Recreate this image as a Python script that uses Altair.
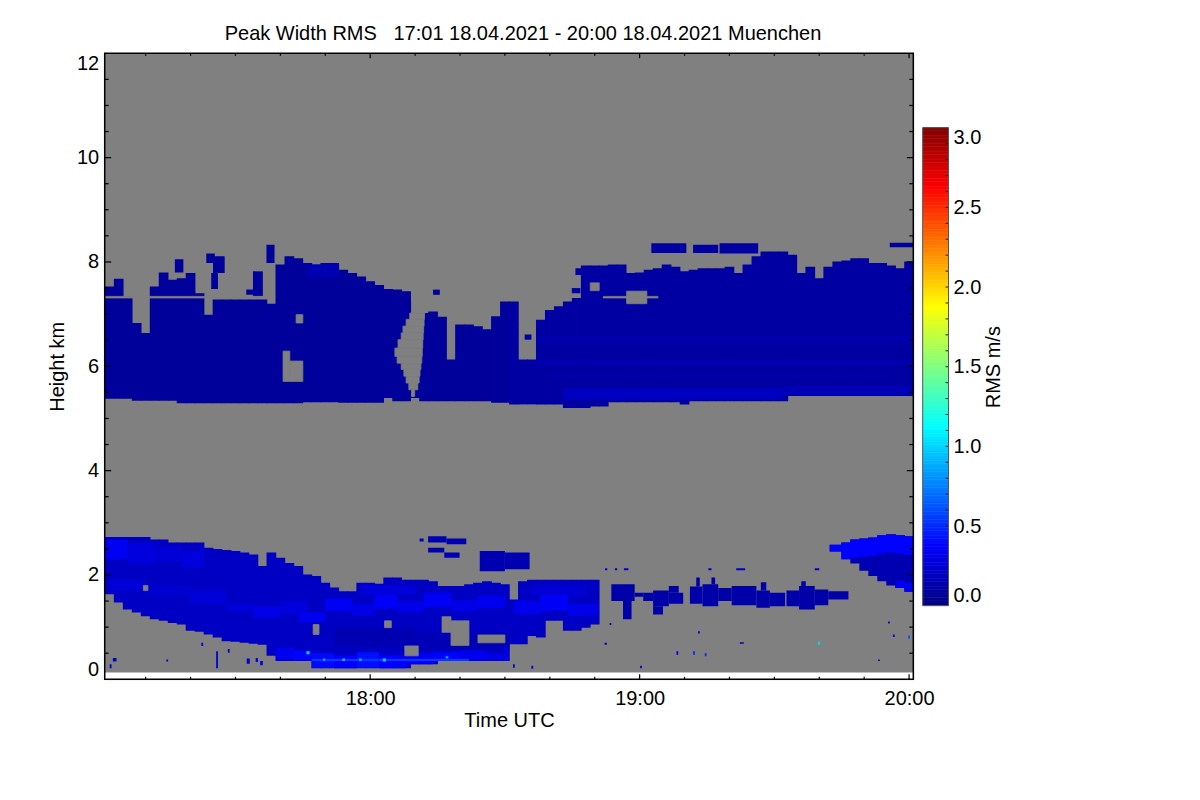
import altair as alt
import pandas as pd

FONT = "Liberation Sans"
GRAY = "#808080"

# ---------------- axes / frame -----------------
T_START, T_END = 0.88, 180.94        # minutes after 17:00 UTC
H_MAX = 12.0
GATE_MIN = 0.13                      # lowest range gate (km)
W, H = 808.6, 626.0

# 2-minute time columns (start minute of each column)
col_t = list(range(1, 181, 2))

# ---------------- upper cloud layer (per column) -----------------
upper_base = [5.38, 5.38, 5.38, 5.34, 5.34, 5.34, 5.34, 5.34, 5.29, 5.29,
              5.29, 5.29, 5.29, 5.29, 5.29, 5.29, 5.29, 5.29, 5.29, 5.29,
              5.29, 5.29, 5.31, 5.31, 5.31, 5.31, 5.30, 5.30, 5.30, 5.30,
              5.30, 5.39, 5.33, 5.33, 5.39, 5.33, 5.33, 5.33, 5.33, 5.33,
              5.33, 5.33, 5.33, 5.30, 5.30, 5.27, 5.27, 5.27, 5.27, 5.27,
              5.27, 5.20, 5.20, 5.20, 5.23, 5.23, 5.31, 5.31, 5.31, 5.31,
              5.31, 5.31, 5.31, 5.31, 5.27, 5.33, 5.33, 5.33, 5.33, 5.33,
              5.33, 5.33, 5.33, 5.33, 5.33, 5.33, 5.43, 5.43, 5.43, 5.43,
              5.43, 5.43, 5.43, 5.43, 5.43, 5.43, 5.43, 5.43, 5.43, 5.43]
upper_top = [7.53, 7.68, 7.34, 6.83, 6.64, 7.53, 7.80, 7.66, 7.69, 7.79,
             7.40, 6.99, 7.28, 7.28, 7.28, 7.28, 7.28, 7.28, 7.20, 7.95,
             8.11, 8.07, 7.98, 7.95, 7.98, 7.98, 7.85, 7.79, 7.72, 7.63,
             7.56, 7.48, 7.47, 7.44, 7.24, 7.02, 7.05, 6.95, 6.13, 6.80,
             6.80, 6.77, 6.71, 6.96, 7.24, 7.24, 6.13, 6.13, 6.89, 7.08,
             7.15, 7.24, 7.31, 7.93, 7.93, 7.93, 7.95, 7.95, 7.79, 7.80,
             7.85, 7.88, 7.95, 7.91, 7.82, 7.85, 7.88, 7.88, 7.88, 7.91,
             7.79, 7.95, 8.11, 8.20, 8.20, 8.20, 8.14, 7.79, 7.91, 7.69,
             7.91, 8.01, 8.03, 8.07, 8.07, 7.98, 7.98, 7.93, 7.88, 8.01]
upper_rms_left, upper_rms_right = 0.08, 0.10

# detached cloud pieces above the upper layer: (t0, t1, bottom, top)
upper_blobs = [(16.5, 18.4, 7.80, 8.05), (23.5, 25.4, 7.98, 8.16),
               (25.0, 27.6, 7.79, 8.11), (24.6, 26.1, 7.48, 7.79),
               (32.4, 33.9, 7.37, 7.47), (33.9, 36.1, 7.34, 7.82),
               (36.9, 38.7, 7.98, 8.33), (74.0, 75.5, 7.37, 7.47),
               (94.4, 95.9, 6.51, 6.61), (104.9, 106.8, 7.40, 7.50),
               (105.7, 107.2, 7.75, 7.88), (122.6, 130.4, 8.17, 8.36),
               (131.9, 137.5, 8.17, 8.33), (137.8, 146.4, 8.16, 8.36),
               (175.7, 181.5, 8.28, 8.37)]

# brighter streaks inside the upper layer: (t0, t1, bottom, top, rms)
upper_streaks = [(46, 53, 7.70, 7.95, 0.15),
                 (97, 181.5, 6.45, 6.58, 0.13), (97, 181.5, 6.02, 6.12, 0.14),
                 (100, 175, 5.78, 5.86, 0.12), (103, 152, 5.36, 5.58, 0.19),
                 (152, 181.5, 5.45, 5.62, 0.16)]

# no-data holes in the upper layer: (t0, t1, bottom, top)
upper_gaps = [(40.6, 42.1, 5.71, 6.29), (42.1, 45.0, 5.71, 6.10),
              (43.5, 45.0, 6.83, 6.99),
              # V-shaped clearing around 18:08
              (69.2, 72.2, 7.02, 7.50), (68.8, 72.1, 6.90, 7.02),
              (68.0, 72.0, 6.77, 6.90), (67.3, 71.9, 6.64, 6.77),
              (66.9, 71.8, 6.51, 6.64), (66.2, 71.7, 6.35, 6.51),
              (65.5, 71.6, 6.19, 6.35), (66.0, 71.5, 6.06, 6.19),
              (66.9, 71.3, 5.94, 6.06), (67.5, 71.1, 5.81, 5.94),
              (68.0, 70.9, 5.68, 5.81), (68.6, 70.6, 5.55, 5.68),
              (69.2, 69.9, 5.42, 5.55),
              (117.1, 121.6, 7.20, 7.44), (109.0, 111.0, 7.45, 7.60),
              (0.5, 37.0, 7.31, 7.34), (111.9, 124.1, 7.31, 7.34)]

# ---------------- lower cloud layer (columns 17:01 - 18:51) -----------------
lower_t = col_t[:55]
lower_base = [1.63, 1.47, 1.34, 1.28, 1.21, 1.15, 1.12, 1.08, 1.05, 0.93,
              0.91, 0.86, 0.80, 0.73, 0.72, 0.70, 0.68, 0.66, 0.45, 0.35,
              0.35, 0.35, 0.35, 0.21, 0.21, 0.21, 0.21, 0.21, 0.21, 0.21,
              0.21, 0.21, 0.21, 0.21, 0.29, 0.29, 0.29, 0.35, 0.35, 0.35,
              0.35, 0.35, 0.35, 0.35, 0.35, 0.67, 0.67, 0.83, 0.80, 1.12,
              1.12, 0.93, 0.93, 0.99, 1.05]
lower_top = [2.73, 2.73, 2.73, 2.73, 2.73, 2.68, 2.68, 2.62, 2.62, 2.62,
             2.62, 2.52, 2.50, 2.48, 2.46, 2.43, 2.39, 2.17, 2.43, 2.33,
             2.23, 2.17, 2.01, 1.98, 1.85, 1.76, 1.69, 1.69, 1.85, 1.85,
             1.83, 1.95, 1.95, 1.91, 1.91, 1.91, 1.88, 1.79, 1.79, 1.79,
             1.82, 1.85, 1.88, 1.85, 1.82, 1.53, 1.88, 1.91, 1.91, 1.91,
             1.91, 1.91, 1.91, 1.91, 1.91]
lower_rms = 0.20

# texture inside the lower layer: (t0, t1, bottom, top, rms)
lower_streaks = [(0.5, 6, 2.30, 2.68, 0.34), (6, 12, 2.22, 2.60, 0.28),
                 (12, 18, 2.25, 2.55, 0.25), (18, 23, 2.15, 2.45, 0.28),
                 (2, 10, 1.70, 1.92, 0.26), (10, 20, 1.60, 1.80, 0.24),
                 (20, 28, 1.45, 1.70, 0.26),
                 (28, 34, 1.30, 1.45, 0.27), (34, 40, 1.18, 1.40, 0.30),
                 (40, 46, 1.25, 1.50, 0.28), (44, 50, 1.10, 1.28, 0.33),
                 (50, 56, 1.30, 1.55, 0.34), (56, 61, 1.22, 1.45, 0.30),
                 (61, 66, 1.35, 1.62, 0.36), (66, 72, 1.28, 1.50, 0.31),
                 (72, 78, 1.38, 1.66, 0.35), (78, 84, 1.30, 1.52, 0.30),
                 (84, 90, 1.36, 1.60, 0.33), (58, 70, 1.62, 1.80, 0.27),
                 (92, 98, 1.25, 1.50, 0.32), (98, 104, 1.32, 1.62, 0.36),
                 (104, 110.8, 1.22, 1.45, 0.31), (96, 108, 1.62, 1.80, 0.25),
                 (52, 70, 0.62, 0.98, 0.15), (70, 91, 0.56, 0.90, 0.16),
                 (39, 43, 0.38, 0.60, 0.33), (43, 47, 0.36, 0.55, 0.38),
                 (47, 52, 0.22, 0.50, 0.40), (52, 57, 0.21, 0.45, 0.36),
                 (57, 62, 0.22, 0.52, 0.42), (62, 68, 0.21, 0.46, 0.37),
                 (68, 74, 0.29, 0.50, 0.35), (74, 80, 0.35, 0.52, 0.38),
                 (80, 86, 0.36, 0.55, 0.33), (86, 90, 0.36, 0.50, 0.30),
                 (47, 82, 0.35, 0.39, 0.55),
                 (45.8, 46.5, 0.48, 0.54, 1.00), (49.5, 50.0, 0.35, 0.40, 0.85),
                 (53.8, 54.4, 0.35, 0.40, 0.95), (57.5, 58.1, 0.35, 0.40, 0.90),
                 (62.8, 63.5, 0.34, 0.40, 1.00), (76.8, 77.4, 0.40, 0.44, 0.90)]

lower_gaps = [(76.0, 78.0, 0.90, 1.20), (78.0, 82.0, 0.65, 1.12),
              (84.0, 90.0, 0.70, 0.85), (67.7, 70.7, 0.45, 0.64),
              (63.2, 64.7, 0.99, 1.12), (47.3, 48.6, 0.86, 1.05),
              (9.5, 10.5, 1.70, 1.80)]

# detached pieces near 2-2.7 km: (t0, t1, bottom, top, rms)
lower_blobs = [(71.0, 71.9, 2.64, 2.70, 0.15), (72.9, 77.0, 2.62, 2.74, 0.15),
               (77.0, 81.4, 2.59, 2.70, 0.15), (72.9, 76.5, 2.43, 2.52, 0.15),
               (76.5, 79.9, 2.33, 2.43, 0.15), (84.4, 90.0, 2.07, 2.46, 0.15),
               (90.0, 95.5, 2.11, 2.43, 0.15)]

# thin cloud band at ~1.5 km after 18:53: (t0, t1, bottom, top, rms)
mid_blobs = [(113.7, 118.9, 1.50, 1.82, 0.12), (116.3, 118.2, 1.15, 1.50, 0.12),
             (118.9, 120.8, 1.58, 1.66, 0.12),
             (120.8, 123.0, 1.50, 1.66, 0.12), (123.0, 126.5, 1.40, 1.70, 0.12),
             (126.5, 129.7, 1.45, 1.66, 0.12), (123.0, 125.2, 1.24, 1.40, 0.12),
             (126.5, 128.7, 1.66, 1.79, 0.12),
             (131.2, 134.0, 1.45, 1.78, 0.12), (134.0, 137.5, 1.40, 1.82, 0.12),
             (137.5, 140.5, 1.50, 1.75, 0.12), (132.6, 133.4, 1.78, 1.95, 0.12),
             (136.0, 136.8, 1.82, 1.95, 0.12),
             (140.5, 146.0, 1.42, 1.79, 0.12), (146.0, 149.0, 1.37, 1.70, 0.12),
             (149.0, 152.4, 1.40, 1.66, 0.12), (147.0, 148.2, 1.70, 1.86, 0.12),
             (152.7, 155.5, 1.40, 1.70, 0.12), (155.5, 159.0, 1.34, 1.79, 0.12),
             (159.0, 162.0, 1.42, 1.72, 0.12), (156.0, 157.0, 1.79, 1.88, 0.12),
             (162.0, 166.5, 1.53, 1.69, 0.12)]

# cloud arriving at the end (19:42 - 20:01)
right_t = [162.4, 165, 167, 169, 171, 173, 175, 177, 179]
right_base = [2.45, 2.30, 2.22, 2.08, 1.98, 1.88, 1.80, 1.75, 1.68]
right_top = [2.58, 2.62, 2.68, 2.70, 2.72, 2.76, 2.78, 2.76, 2.74]
right_rms, right_top_rms = 0.15, 0.38
right_streaks = [(177, 179, 1.75, 1.88, 0.35), (179, 181.5, 1.68, 1.85, 0.35)]

# isolated echoes
specks = [(2.7, 3.5, 0.34, 0.41, 0.20), (2.0, 2.4, 0.21, 0.29, 0.20),
          (14.6, 15.0, 0.34, 0.38, 0.25), (22.4, 22.8, 0.64, 0.70, 0.25),
          (25.7, 26.1, 0.21, 0.54, 0.25), (28.3, 28.7, 0.51, 0.58, 0.25),
          (32.5, 33.2, 0.30, 0.40, 0.25), (34.5, 35.0, 0.33, 0.41, 0.30),
          (35.5, 36.1, 0.27, 0.35, 0.30), (90.0, 90.7, 0.35, 0.61, 0.30),
          (91.8, 92.2, 0.22, 0.29, 0.25), (95.9, 96.3, 0.20, 0.26, 0.25),
          (112.2, 112.7, 0.66, 0.70, 0.20), (113.3, 113.7, 1.04, 1.08, 0.20),
          (128.2, 128.6, 0.47, 0.54, 0.30), (131.9, 132.3, 0.47, 0.54, 0.50),
          (134.5, 134.9, 0.44, 0.50, 0.50), (142.3, 143.2, 0.68, 0.71, 0.20),
          (159.7, 160.2, 0.66, 0.72, 1.00), (175.3, 175.7, 1.07, 1.11, 0.30),
          (176.4, 176.8, 0.81, 0.86, 0.30), (179.8, 180.2, 0.78, 0.84, 0.60),
          (173.1, 173.5, 0.35, 0.38, 0.30), (120.1, 120.5, 0.21, 0.26, 0.30),
          (133.0, 133.4, 0.88, 0.92, 0.30), (112.3, 112.8, 2.09, 2.13, 0.20),
          (114.5, 115.0, 2.09, 2.13, 0.20), (116.5, 117.5, 2.09, 2.13, 0.20),
          (135.3, 136.0, 2.09, 2.13, 0.20), (141.5, 143.5, 2.09, 2.13, 0.20),
          (159.0, 160.0, 2.09, 2.13, 0.20)]

# axis ticks
x_minor = [10, 20, 30, 40, 50, 70, 80, 90, 100, 110, 130, 140, 150, 160, 170]
x_major = [60, 120, 180]
x_labels = [60, 120, 180]
y_major = [2, 4, 6, 8, 10]
y_minor = [0.5, 1, 1.5, 2.5, 3, 3.5, 4.5, 5, 5.5, 6.5, 7, 7.5, 8.5, 9, 9.5,
           10.5, 11, 11.5]
y_labels = [0, 2, 4, 6, 8, 10, 12]
cb_labels = [0, 0.5, 1.0, 1.5, 2.0, 2.5, 3.0]
cb_ticks = [0.1, 0.2, 0.3, 0.4, 0.5, 0.6, 0.7, 0.8, 0.9, 1.0, 1.1, 1.2, 1.3,
            1.4, 1.5, 1.6, 1.7, 1.8, 1.9, 2.0, 2.1, 2.2, 2.3, 2.4, 2.5, 2.6,
            2.7, 2.8, 2.9]

# jet colour table
jet_stops = [0, 0.375, 1.125, 1.875, 2.625, 3.0]
jet_colors = ["#000080", "#0000ff", "#00ffff", "#ffff00", "#ff0000", "#800000"]

# ---------------- build tables -----------------
OV = 0.08
cloud = []
for i, t in enumerate(col_t):
    v = upper_rms_left if t < 90 else upper_rms_right
    t0 = T_START - 0.5 if i == 0 else t - OV
    cloud.append((t0, t + 2 + OV, upper_base[i], upper_top[i], v))
for a, b, lo, hi in upper_blobs:
    cloud.append((a, b, lo, hi, upper_rms_left if a < 90 else upper_rms_right))
cloud += upper_streaks
for i, t in enumerate(lower_t):
    t0 = T_START - 0.5 if i == 0 else t - OV
    cloud.append((t0, t + 2 + OV, lower_base[i], lower_top[i], lower_rms))
cloud += lower_streaks
cloud += lower_blobs
cloud += mid_blobs
for i, t in enumerate(right_t):
    t1 = right_t[i + 1] if i + 1 < len(right_t) else 181.5
    cloud.append((t - OV, t1 + OV, right_base[i], right_top[i], right_rms))
    cloud.append((t - OV, t1 + OV, max(right_base[i], right_top[i] - 0.35),
                  right_top[i], right_top_rms))
cloud += right_streaks
cloud += specks
cloud_df = pd.DataFrame(cloud, columns=["t0", "t1", "h0", "h1", "rms"])

gap_df = pd.DataFrame(upper_gaps + lower_gaps, columns=["t0", "t1", "h0", "h1"])
bg_df = pd.DataFrame([{"t0": T_START, "t1": T_END, "h0": GATE_MIN, "h1": H_MAX}])

n_cb = 300
cb_df = pd.DataFrame({"c0": [3.0 * i / n_cb for i in range(n_cb)],
                      "c1": [3.0 * (i + 1) / n_cb + 0.003 for i in range(n_cb)],
                      "cv": [3.0 * (i + 0.5) / n_cb for i in range(n_cb)]})

one = pd.DataFrame({"k": [0]})

# ---------------- scales / axes -----------------
jet = alt.Scale(domain=jet_stops, range=jet_colors, interpolate="rgb", clamp=True)
x_scale = alt.Scale(domain=[T_START, T_END], nice=False, zero=False)
y_scale = alt.Scale(domain=[0, H_MAX], nice=False, zero=False)

CB_X0, CB_X1 = 818.0, 843.8
CB_TOP, CB_BOT = 74.4, 552.4
cb_scale = alt.Scale(domain=[0, 3], range=[CB_BOT, CB_TOP], nice=False, zero=False)

x_axis = alt.Axis(values=x_labels, labelExpr="(17 + datum.value / 60) + ':00'",
                  title="Time UTC", titleFont=FONT, titleFontSize=20,
                  titleFontWeight="normal", titleColor="black",
                  titleBaseline="alphabetic", titleY=47.4,
                  labelFont=FONT, labelFontSize=20, labelColor="black",
                  labelBaseline="alphabetic", labelPadding=25.7, labelFlush=False,
                  ticks=False, tickSize=0, domain=False, grid=False)
y_axis = alt.Axis(values=y_labels, format="d", title="Height km",
                  titleFont=FONT, titleFontSize=20, titleFontWeight="normal",
                  titleColor="black", titleAngle=270, titleBaseline="alphabetic",
                  titleX=-41.7, labelFont=FONT, labelFontSize=20,
                  labelColor="black", labelFlush=True, labelPadding=6,
                  ticks=False, tickSize=0, domain=False, grid=False)
cb_axis = alt.Axis(orient="right", offset=CB_X1 - W, values=cb_labels,
                   format=".1f", title="RMS m/s", titleFont=FONT,
                   titleFontSize=20, titleFontWeight="normal", titleColor="black",
                   titleAngle=270, titleBaseline="alphabetic", titleX=50.8,
                   labelFont=FONT, labelFontSize=20, labelColor="black",
                   labelFlush=True, labelPadding=4.5, ticks=False, tickSize=0,
                   domain=False, grid=False)

# ---------------- layers -----------------
def X(field):
    return alt.X(field, scale=x_scale, axis=x_axis)

def Y(field):
    return alt.Y(field, scale=y_scale, axis=y_axis)

bg = alt.Chart(bg_df).mark_rect(color=GRAY).encode(
    x=X("t0:Q"), x2="t1:Q", y=Y("h0:Q"), y2="h1:Q")

clouds = alt.Chart(cloud_df).mark_rect(clip=True).encode(
    x=X("t0:Q"), x2="t1:Q", y=Y("h0:Q"), y2="h1:Q",
    color=alt.Color("rms:Q", scale=jet, legend=None))

gaps = alt.Chart(gap_df).mark_rect(fill=GRAY, stroke=GRAY, strokeWidth=0.8,
                                   clip=True).encode(
    x=X("t0:Q"), x2="t1:Q", y=Y("h0:Q"), y2="h1:Q")

def xticks(vals, length):
    d = pd.DataFrame({"t0": vals})
    bot = alt.Chart(d).mark_rule(color="black", strokeWidth=1.2).encode(
        x=X("t0:Q"), y=alt.value(H), y2=alt.value(H - length))
    top = alt.Chart(d).mark_rule(color="black", strokeWidth=1.2).encode(
        x=X("t0:Q"), y=alt.value(0), y2=alt.value(length))
    return [bot, top]

def yticks(vals, length):
    d = pd.DataFrame({"h0": vals})
    left = alt.Chart(d).mark_rule(color="black", strokeWidth=1.2).encode(
        y=Y("h0:Q"), x=alt.value(0), x2=alt.value(length))
    right = alt.Chart(d).mark_rule(color="black", strokeWidth=1.2).encode(
        y=Y("h0:Q"), x=alt.value(W), x2=alt.value(W - length))
    return [left, right]

frame = alt.Chart(one).mark_rect(filled=False, stroke="black", strokeWidth=1.5).encode(
    x=alt.value(0), x2=alt.value(W), y=alt.value(0), y2=alt.value(H))

main = alt.layer(bg, clouds, gaps,
                 *xticks(x_minor, 2.5), *xticks(x_major, 5),
                 *yticks(y_minor, 4), *yticks(y_major, 6.5), frame)

cbar = alt.Chart(cb_df).mark_rect().encode(
    x=alt.value(CB_X0), x2=alt.value(CB_X1),
    y=alt.Y("c0:Q", scale=cb_scale, axis=cb_axis), y2="c1:Q",
    color=alt.Color("cv:Q", scale=jet, legend=None))
cbar_ticks = alt.Chart(pd.DataFrame({"c0": cb_ticks})).mark_rule(
    color="#222222", strokeWidth=1).encode(
    y=alt.Y("c0:Q", scale=cb_scale, axis=cb_axis),
    x=alt.value(CB_X1 - 3), x2=alt.value(CB_X1))
cbar_border = alt.Chart(one).mark_rect(filled=False, stroke="#555555",
                                       strokeWidth=1).encode(
    x=alt.value(CB_X0), x2=alt.value(CB_X1),
    y=alt.value(CB_TOP), y2=alt.value(CB_BOT))
cb = alt.layer(cbar, cbar_ticks, cbar_border)

title_text = "Peak Width RMS\u00a0\u00a0\u00a017:01 18.04.2021 - 20:00 18.04.2021 Muenchen"

chart = alt.layer(main, cb).resolve_scale(y="independent").properties(
    width=W, height=H,
    title=alt.TitleParams(title_text, font=FONT, fontSize=20, fontWeight="normal",
                          color="black", anchor="middle", frame="group",
                          dx=14, offset=-7.5, baseline="alphabetic"),
    padding={"left": 96.7, "top": 45.3, "right": 180, "bottom": 110},
    autosize=alt.AutoSizeParams(type="none"),
    background="white",
).configure_view(stroke=None).configure(font=FONT)

chart.save("out.html", embed_options={"renderer": "svg", "actions": False})
